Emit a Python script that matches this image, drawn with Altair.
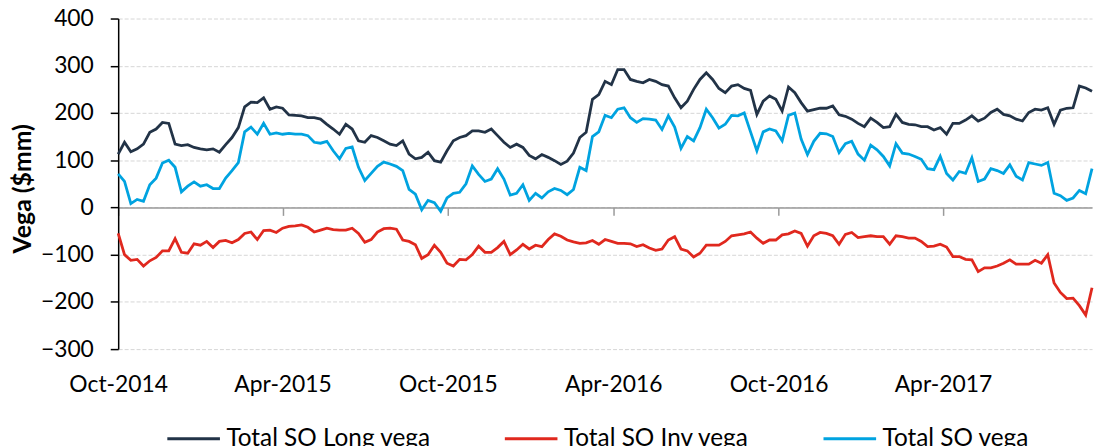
import altair as alt
import pandas as pd

# weekly readings starting 2014-10-01
long_vega = [113,138,118,124,134,159,166,180,178,134,
             131,133,127,124,122,124,117,133,148,169,
             213,223,222,232,208,213,210,196,195,194,
             190,190,187,176,166,155,176,166,141,138,
             152,148,141,134,131,141,113,103,106,117,
             99,96,120,141,148,152,162,162,159,166,
             152,138,127,134,127,110,103,112,106,99,
             91,98,115,148,159,229,239,267,260,292,
             292,271,267,264,271,267,260,257,232,211,
             225,250,271,285,271,252,243,257,260,252,
             248,197,225,236,229,204,255,243,222,204,
             207,210,210,215,196,193,187,178,171,189,
             180,169,171,197,180,176,175,171,171,164,
             169,155,178,178,185,194,183,189,201,208,
             197,194,187,183,201,208,206,211,176,206,
             210,211,257,253,246]

inv_vega = [-55,-100,-112,-110,-124,-113,-106,-92,-92,-66,
            -95,-97,-77,-80,-72,-85,-72,-70,-75,-68,
            -55,-52,-68,-49,-48,-53,-44,-40,-39,-37,
            -42,-52,-48,-44,-47,-48,-48,-44,-55,-74,
            -68,-52,-45,-44,-46,-69,-72,-79,-108,-100,
            -80,-95,-118,-124,-110,-111,-100,-82,-95,-95,
            -85,-72,-100,-90,-78,-88,-80,-83,-68,-56,
            -61,-69,-73,-76,-75,-70,-78,-68,-72,-76,
            -76,-77,-83,-79,-86,-91,-88,-69,-62,-88,
            -92,-105,-97,-80,-80,-80,-72,-60,-58,-56,
            -52,-65,-76,-69,-69,-58,-56,-50,-55,-82,
            -60,-53,-55,-60,-78,-57,-53,-64,-62,-60,
            -62,-62,-78,-60,-62,-65,-65,-72,-83,-82,
            -78,-84,-104,-104,-110,-111,-136,-128,-128,-124,
            -118,-111,-120,-120,-120,-112,-118,-100,-160,-180,
            -193,-192,-208,-228,-170]

total_vega = [71,55,8,17,13,48,62,94,100,85,
              33,45,54,45,48,40,40,62,78,95,
              160,170,155,178,155,158,155,157,155,155,
              152,138,136,140,120,103,125,128,85,57,
              72,87,96,92,87,78,38,28,-5,15,
              10,-8,20,30,32,50,88,70,55,60,
              82,60,26,30,48,15,30,20,33,40,
              36,27,38,85,78,150,160,195,190,208,
              211,190,180,188,187,185,165,194,170,125,
              150,141,169,208,190,168,176,195,194,200,
              160,120,160,166,162,141,195,200,145,112,
              140,157,156,150,116,135,140,113,100,132,
              122,108,88,135,115,113,108,102,82,80,
              108,72,58,76,72,105,55,60,82,78,
              72,90,66,58,95,92,89,95,30,25,
              15,20,36,29,82]

series_names = ["Total SO Long vega", "Total SO Inv vega", "Total SO vega"]
series_colors = ["#223347", "#e0281e", "#00a3e0"]
y_ticks = [-300, -200, -100, 0, 100, 200, 300, 400]
x_tick_dates = [(2014, 10), (2015, 4), (2015, 10), (2016, 4), (2016, 10), (2017, 4)]

dates = pd.date_range("2014-10-01", periods=len(long_vega), freq="7D")
frames = []
for name, vals in zip(series_names, [long_vega, inv_vega, total_vega]):
    frames.append(pd.DataFrame({"date": dates, "value": vals, "series": name}))
df = pd.concat(frames, ignore_index=True)

FONT = "Lato"
zero_offset = 333 * 300 / 700

x_axis = alt.Axis(
    values=[alt.DateTime(year=y, month=m, date=1) for y, m in x_tick_dates],
    format="%b-%Y", orient="bottom", offset=-zero_offset,
    domainColor="#9a9a9a", domainWidth=1.5,
    tickColor="#9a9a9a", tickSize=8, tickWidth=1.5,
    labelPadding=zero_offset + 17, labelFont=FONT, labelFontSize=23,
    labelColor="black", labelFlush=False, grid=False, title=None,
)

y_axis = alt.Axis(
    values=y_ticks, orient="left",
    domainColor="black", domainWidth=1.5,
    tickColor="black", tickSize=8, tickWidth=1.5,
    labelPadding=17, labelFont=FONT, labelFontSize=23, labelColor="black",
    grid=True, gridDash=[4, 2], gridColor="#d6d6d6", gridWidth=1,
    title="Vega ($mm)", titleFont=FONT, titleFontSize=25, titleFontWeight="bold",
    titleColor="black", titleAngle=270, titleBaseline="middle",
    titleX=-96, titleY=171,
)

legend = alt.Legend(
    title=None, orient="none", legendX=48, legendY=395,
    direction="horizontal", symbolType="stroke", symbolSize=2809,
    symbolStrokeWidth=3, labelFont=FONT, labelFontSize=24.5,
    labelColor="black", columnPadding=68, labelOffset=5, padding=0,
    labelLimit=0,
)

chart = alt.Chart(df).mark_line(strokeWidth=2.8).encode(
    x=alt.X("date:T",
            scale=alt.Scale(domain=[alt.DateTime(year=2014, month=10, date=1),
                                    alt.DateTime(year=2017, month=9, date=13)]),
            axis=x_axis),
    y=alt.Y("value:Q", scale=alt.Scale(domain=[-300, 400], nice=False), axis=y_axis),
    color=alt.Color("series:N",
                    scale=alt.Scale(domain=series_names, range=series_colors),
                    legend=legend),
).properties(
    width=981, height=333,
    autosize=alt.AutoSizeParams(type="none"),
    padding={"left": 111, "top": 9, "right": 3, "bottom": 96},
    background="white",
).configure_view(strokeWidth=0)

chart.save("out.html", embed_options={"renderer": "svg", "actions": False})
